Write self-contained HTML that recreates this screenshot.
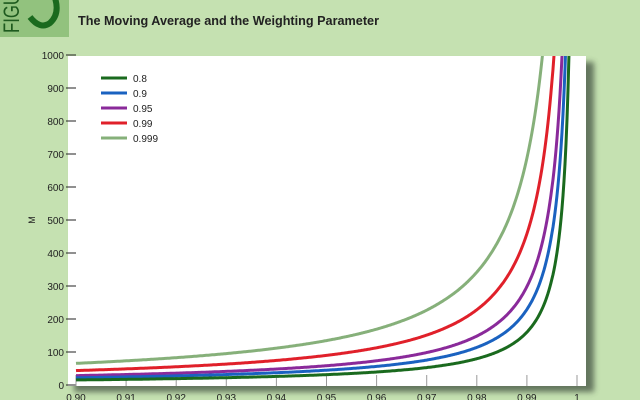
<!DOCTYPE html>
<html><head><style>
body{margin:0;width:640px;height:400px;overflow:hidden;background:#c5e1b1;font-family:"Liberation Sans",sans-serif;}
</style></head><body>
<svg id="s" width="640" height="400" xmlns="http://www.w3.org/2000/svg" style="position:absolute;left:0;top:0">
<defs><filter id="sh" x="-5%" y="-5%" width="115%" height="115%"><feGaussianBlur stdDeviation="3"/></filter></defs>
<rect x="0" y="0" width="69" height="37" fill="#92c27e"/>
<text transform="translate(19,33) rotate(-90)" font-size="22" fill="#1e5a1e" font-family="Liberation Sans" textLength="40" lengthAdjust="spacingAndGlyphs">FIGU</text>
<path d="M30,17 Q40,30 50,23 Q60,14 55,-2" fill="none" stroke="#1a6a1e" stroke-width="6"/>
<text x="78" y="25" font-size="13" font-weight="bold" fill="#222" textLength="301" lengthAdjust="spacingAndGlyphs">The Moving Average and the Weighting Parameter</text>
<rect x="74" y="62" width="520" height="330" fill="#3a4a3a" opacity="0.7" filter="url(#sh)"/>
<rect x="68" y="56" width="518" height="330" fill="#fff"/>
<g id="g"></g>
</svg>
<script>
var g=document.getElementById('g'),h='';
function X(l){return 76+(l-0.9)*5010;}function Y(v){return 385-v*0.33;}
for(var i=0;i<=10;i++){var v=i*100;h+='<text x="64" y="'+(Y(v)+4)+'" font-size="10" text-anchor="end" fill="#222">'+v+'</text><line x1="66" x2="76" y1="'+Y(v)+'" y2="'+Y(v)+'" stroke="#222"/>';}
var xl=['0.90','0.91','0.92','0.93','0.94','0.95','0.96','0.97','0.98','0.99','1'];
for(var i=0;i<=10;i++){var x=X(0.9+i*0.01);h+='<line x1="'+x+'" x2="'+x+'" y1="375" y2="386" stroke="#999"/><text x="'+x+'" y="401" font-size="10" text-anchor="middle" fill="#222">'+xl[i]+'</text>';}
h+='<text transform="translate(35,220) rotate(-90)" font-size="9" fill="#222" text-anchor="middle">M</text>';
var ser=[[0.8,'#1a6a1e'],[0.9,'#1a62c0'],[0.95,'#8a2a9a'],[0.99,'#e0202a'],[0.999,'#86b07a']];
h+='<clipPath id="c"><rect x="68" y="56" width="518" height="330"/></clipPath>';
for(var k=ser.length-1;k>=0;k--){var p=ser[k][0],d='';
for(var l=0.9;l<0.9999;l+=0.0002){var m=Math.log(1-p)/Math.log(l);var y=Y(m);if(y<40){d+='L'+X(l).toFixed(1)+','+y.toFixed(1);break;}d+=(d?'L':'M')+X(l).toFixed(1)+','+y.toFixed(1);}
h+='<path d="'+d+'" fill="none" stroke="'+ser[k][1]+'" stroke-width="3" clip-path="url(#c)"/>';}
for(var k=0;k<5;k++){var y=78+k*15;h+='<line x1="101" x2="127" y1="'+y+'" y2="'+y+'" stroke="'+ser[k][1]+'" stroke-width="3"/><text x="133" y="'+(y+4)+'" font-size="10" fill="#222">'+ser[k][0]+'</text>';}
g.innerHTML=h;
</script>
</body></html>
